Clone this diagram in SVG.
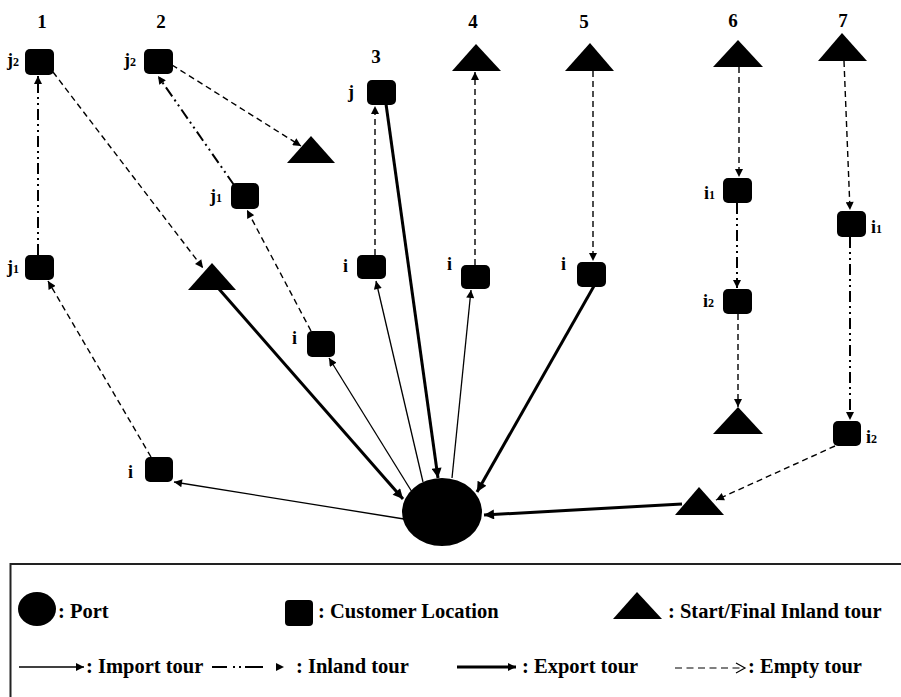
<svg xmlns="http://www.w3.org/2000/svg" width="901" height="697" viewBox="0 0 901 697">
<style>
  .n { fill: #000; }
  .t { font-family: "Liberation Serif", "Times New Roman", serif; font-weight: bold; fill: #000; }
  .col { font-size: 19px; text-anchor: middle; }
  .lbl { font-size: 18px; }
  .sub { font-size: 12px; }
  .leg { font-size: 20.5px; }
  .imp { stroke: #000; stroke-width: 1.3; fill: none; marker-end: url(#ah); }
  .exp { stroke: #000; stroke-width: 3; fill: none; marker-end: url(#ahb); }
  .emp { stroke: #000; stroke-width: 1.4; fill: none; stroke-dasharray: 6 4; marker-end: url(#ah); }
  .inl { stroke: #000; stroke-width: 2; fill: none; stroke-dasharray: 11 4 2 4 2 4; marker-end: url(#ah); }
</style>
<defs>
  <marker id="ah" viewBox="0 0 10 10" refX="10" refY="5" markerWidth="9" markerHeight="8" markerUnits="userSpaceOnUse" orient="auto">
    <path d="M0,0 L10,5 L0,10 z" fill="#000"/>
  </marker>
  <marker id="ahb" viewBox="0 0 10 10" refX="10" refY="5" markerWidth="12" markerHeight="10" markerUnits="userSpaceOnUse" orient="auto">
    <path d="M0,0 L10,5 L0,10 z" fill="#000"/>
  </marker>
</defs>
<rect width="901" height="697" fill="#fff"/>

<!-- column numbers -->
<g id="column-labels" class="t col">
  <text x="42" y="28">1</text>
  <text x="161" y="28">2</text>
  <text x="376" y="63">3</text>
  <text x="473" y="28">4</text>
  <text x="584" y="28">5</text>
  <text x="733" y="27">6</text>
  <text x="843" y="27">7</text>
</g>

<!-- connectors -->
<g id="connectors">
  <!-- tour 1 -->
  <line class="inl" x1="38" y1="255" x2="38" y2="76"/>
  <line class="emp" x1="53" y1="72" x2="203" y2="268"/>
  <line class="emp" x1="151" y1="457" x2="48" y2="281"/>
  <line class="imp" x1="404" y1="519" x2="174" y2="482"/>
  <line class="exp" x1="219" y1="289" x2="403" y2="499"/>
  <!-- tour 2 -->
  <line class="emp" x1="172" y1="65" x2="301" y2="146"/>
  <line class="inl" x1="234" y1="185" x2="158" y2="76"/>
  <line class="emp" x1="311" y1="331" x2="247" y2="210"/>
  <line class="imp" x1="412" y1="492" x2="329" y2="358"/>
  <!-- tour 3 -->
  <line class="emp" x1="375" y1="255" x2="375" y2="106"/>
  <line class="exp" x1="386" y1="104" x2="438" y2="478"/>
  <line class="imp" x1="423" y1="482" x2="376" y2="281"/>
  <!-- tour 4 -->
  <line class="emp" x1="475" y1="265" x2="475" y2="72"/>
  <line class="imp" x1="452" y1="478" x2="471" y2="290"/>
  <!-- tour 5 -->
  <line class="emp" x1="593" y1="71" x2="593" y2="261"/>
  <line class="exp" x1="594" y1="286" x2="477" y2="492"/>
  <!-- tour 6 -->
  <line class="emp" x1="739" y1="67" x2="739" y2="177"/>
  <line class="inl" x1="737" y1="203" x2="737" y2="288"/>
  <line class="emp" x1="738" y1="314" x2="738" y2="407"/>
  <!-- tour 7 -->
  <line class="emp" x1="844" y1="61" x2="850" y2="210"/>
  <line class="inl" x1="850" y1="237" x2="850" y2="420"/>
  <line class="emp" x1="835" y1="446" x2="716" y2="500"/>
  <line class="exp" x1="682" y1="504" x2="484" y2="515"/>
</g>

<!-- port -->
<g id="port"><ellipse class="n" cx="442" cy="512" rx="40" ry="34"/></g>

<!-- tour 1 nodes -->
<g id="t1-j2"><rect class="n" x="25" y="49" width="29" height="26" rx="5"/><text class="t lbl" x="7" y="66">j<tspan class="sub">2</tspan></text></g>
<g id="t1-j1"><rect class="n" x="25" y="255" width="29" height="25" rx="5"/><text class="t lbl" x="7" y="273">j<tspan class="sub">1</tspan></text></g>
<g id="t1-i"><rect class="n" x="145" y="457" width="28" height="25" rx="5"/><text class="t lbl" x="128" y="478">i</text></g>
<g id="t1-tri"><polygon class="n" points="212,263 236,290 188,290"/></g>

<!-- tour 2 nodes -->
<g id="t2-j2"><rect class="n" x="144" y="49" width="29" height="25" rx="5"/><text class="t lbl" x="124" y="66">j<tspan class="sub">2</tspan></text></g>
<g id="t2-j1"><rect class="n" x="231" y="183" width="28" height="26" rx="5"/><text class="t lbl" x="210" y="202">j<tspan class="sub">1</tspan></text></g>
<g id="t2-i"><rect class="n" x="307" y="331" width="28" height="26" rx="5"/><text class="t lbl" x="292" y="344">i</text></g>
<g id="t2-tri"><polygon class="n" points="311,136 335,163 287,163"/></g>

<!-- tour 3 nodes -->
<g id="t3-j"><rect class="n" x="367" y="80" width="29" height="25" rx="5"/><text class="t lbl" x="348" y="98">j</text></g>
<g id="t3-i"><rect class="n" x="357" y="255" width="29" height="24" rx="5"/><text class="t lbl" x="343" y="272">i</text></g>

<!-- tour 4 nodes -->
<g id="t4-tri"><polygon class="n" points="476,44 501,71 452,71"/></g>
<g id="t4-i"><rect class="n" x="461" y="265" width="29" height="24" rx="5"/><text class="t lbl" x="447" y="270">i</text></g>

<!-- tour 5 nodes -->
<g id="t5-tri"><polygon class="n" points="590,43 614,71 565,71"/></g>
<g id="t5-i"><rect class="n" x="577" y="262" width="29" height="25" rx="5"/><text class="t lbl" x="561" y="270">i</text></g>

<!-- tour 6 nodes -->
<g id="t6-tri-start"><polygon class="n" points="738,40 763,67 713,67"/></g>
<g id="t6-i1"><rect class="n" x="723" y="178" width="29" height="25" rx="5"/><text class="t lbl" x="704" y="199">i<tspan class="sub">1</tspan></text></g>
<g id="t6-i2"><rect class="n" x="723" y="289" width="29" height="25" rx="5"/><text class="t lbl" x="703" y="307">i<tspan class="sub">2</tspan></text></g>
<g id="t6-tri-end"><polygon class="n" points="738,407 763,434 713,434"/></g>

<!-- tour 7 nodes -->
<g id="t7-tri-start"><polygon class="n" points="842,33 867,61 818,61"/></g>
<g id="t7-i1"><rect class="n" x="837" y="211" width="29" height="26" rx="5"/><text class="t lbl" x="871" y="233">i<tspan class="sub">1</tspan></text></g>
<g id="t7-i2"><rect class="n" x="833" y="421" width="28" height="25" rx="5"/><text class="t lbl" x="866" y="443">i<tspan class="sub">2</tspan></text></g>
<g id="t7-tri-end"><polygon class="n" points="699,487 724,515 675,515"/></g>

<!-- legend -->
<g id="legend">
  <rect x="10.5" y="564" width="900" height="150" fill="none" stroke="#222" stroke-width="2"/>
  <ellipse class="n" cx="37" cy="609" rx="19" ry="17"/>
  <text class="t leg" x="58" y="618">: Port</text>
  <rect class="n" x="285" y="600" width="28" height="26" rx="4"/>
  <text class="t leg" x="318" y="618">: Customer Location</text>
  <polygon class="n" points="637,592 662,619 613,619"/>
  <text class="t leg" x="668" y="618">: Start/Final Inland tour</text>

  <line x1="19" y1="667" x2="84" y2="667" stroke="#000" stroke-width="1.3" marker-end="url(#ah)"/>
  <text class="t leg" x="86" y="673">: Import tour</text>
  <line x1="212" y1="667" x2="266" y2="667" stroke="#000" stroke-width="2" stroke-dasharray="15 6 2 4 2 4 18"/>
  <polygon class="n" points="276,663 284,667 276,671"/>
  <text class="t leg" x="296" y="673">: Inland tour</text>
  <line x1="457" y1="667" x2="516" y2="667" stroke="#000" stroke-width="3" marker-end="url(#ah)"/>
  <text class="t leg" x="522" y="673">: Export tour</text>
  <line x1="675" y1="668" x2="744" y2="668" stroke="#000" stroke-width="1.2" stroke-dasharray="7 4.5"/>
  <polyline points="736,663 745,668 736,673" fill="none" stroke="#000" stroke-width="1.2"/>
  <text class="t leg" x="748" y="673">: Empty tour</text>
</g>
</svg>
